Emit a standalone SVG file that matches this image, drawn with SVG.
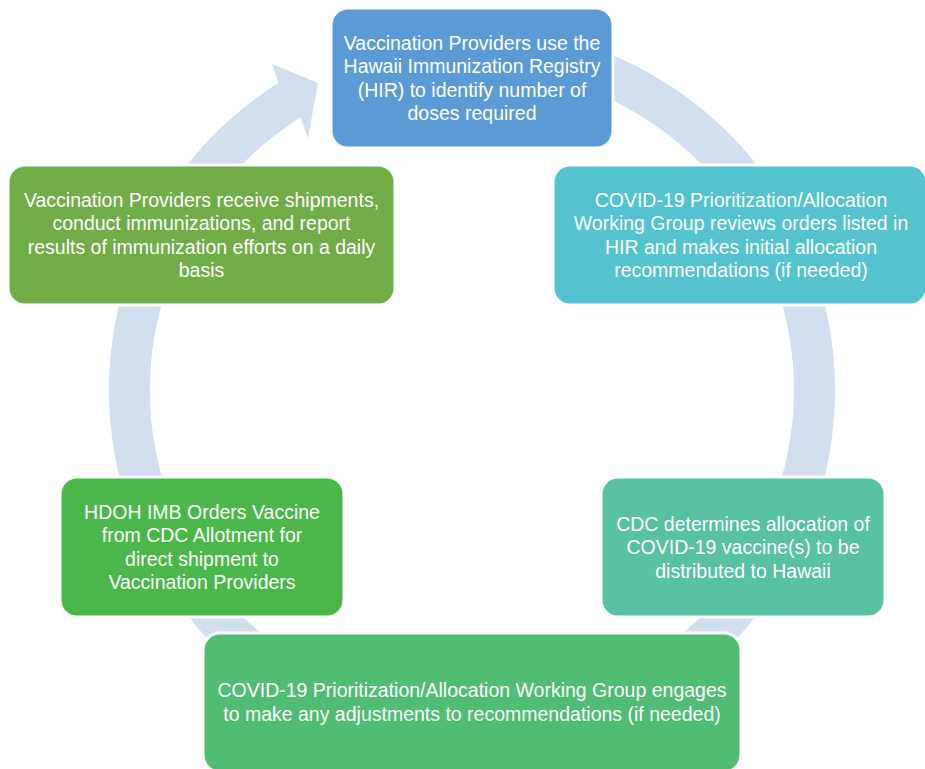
<svg xmlns="http://www.w3.org/2000/svg" width="925" height="769" viewBox="0 0 925 769">
<style>
  .box { stroke: #ffffff; stroke-width: 3; }
  .t { font-family: "Liberation Sans", Arial, sans-serif; font-size: 19.5px; fill: #ffffff; text-anchor: middle; }
  .ring { fill: #d0deee; }
</style>
<rect width="925" height="769" fill="#ffffff"/>
<g id="connectors">
  <path class="ring" d="M 347.8 48.9 A 363 363 0 1 1 278.6 82.8 L 272 64 L 318 83 L 308 138 L 300.4 117.5 A 322 322 0 1 0 361.9 87.4 Z"/>
</g>
<g id="node1">
  <rect class="box" x="331" y="8" width="282" height="140" rx="17" fill="#5b9bd5"/>
  <text class="t" x="472" y="49.7">Vaccination Providers use the</text>
  <text class="t" x="472" y="73.2">Hawaii Immunization Registry</text>
  <text class="t" x="472" y="96.7">(HIR) to identify number of</text>
  <text class="t" x="472" y="120.2">doses required</text>
</g>
<g id="node2">
  <rect class="box" x="553" y="165" width="374" height="140" rx="17" fill="#54c2cf"/>
  <text class="t" x="741" y="206.7">COVID-19 Prioritization/Allocation</text>
  <text class="t" x="741" y="230.2">Working Group reviews orders listed in</text>
  <text class="t" x="741" y="253.7">HIR and makes initial allocation</text>
  <text class="t" x="741" y="277.2">recommendations (if needed)</text>
</g>
<g id="node3">
  <rect class="box" x="8" y="165" width="387" height="140" rx="17" fill="#70ad47"/>
  <text class="t" x="201.5" y="206.7">Vaccination Providers receive shipments,</text>
  <text class="t" x="201.5" y="230.2">conduct immunizations, and report</text>
  <text class="t" x="201.5" y="253.7">results of immunization efforts on a daily</text>
  <text class="t" x="201.5" y="277.2">basis</text>
</g>
<g id="node4">
  <rect class="box" x="60" y="477" width="284" height="140" rx="17" fill="#4bb74a"/>
  <text class="t" x="202" y="518.7">HDOH IMB Orders Vaccine</text>
  <text class="t" x="202" y="542.2">from CDC Allotment for</text>
  <text class="t" x="202" y="565.7">direct shipment to</text>
  <text class="t" x="202" y="589.2">Vaccination Providers</text>
</g>
<g id="node5">
  <rect class="box" x="601" y="477" width="284" height="140" rx="17" fill="#58c0a3"/>
  <text class="t" x="743" y="530.5">CDC determines allocation of</text>
  <text class="t" x="743" y="554">COVID-19 vaccine(s) to be</text>
  <text class="t" x="743" y="577.5">distributed to Hawaii</text>
</g>
<g id="node6">
  <rect class="box" x="203" y="633" width="538" height="139" rx="17" fill="#50bc74"/>
  <text class="t" x="472" y="697">COVID-19 Prioritization/Allocation Working Group engages</text>
  <text class="t" x="472" y="720.5">to make any adjustments to recommendations (if needed)</text>
</g>
</svg>
